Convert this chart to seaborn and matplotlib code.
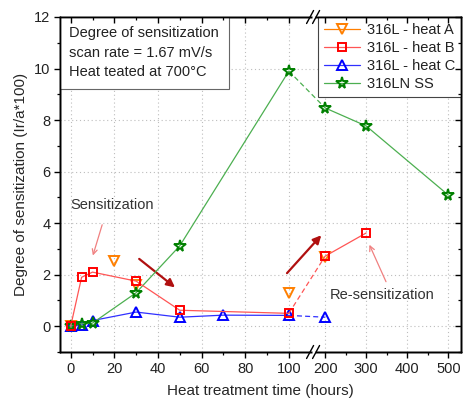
import numpy as np
import matplotlib
matplotlib.use("Agg")
import matplotlib.pyplot as plt
import seaborn as sns
from matplotlib.lines import Line2D
from matplotlib.offsetbox import AnchoredText

# ---------------- data ----------------
hours_A = [0, 20, 30, 100, 200]
dos_A = [0.0, 2.55, 1.6, 1.28, 2.7]
hours_B = [0, 5, 10, 30, 50, 100, 200, 300]
dos_B = [0.0, 1.9, 2.1, 1.75, 0.62, 0.5, 2.72, 3.62]
hours_C = [0, 5, 10, 30, 50, 70, 100, 200]
dos_C = [0.0, 0.05, 0.22, 0.55, 0.35, 0.43, 0.42, 0.35]
hours_LN = [0, 5, 10, 30, 50, 100, 200, 300, 500]
dos_LN = [0.0, 0.1, 0.12, 1.3, 3.12, 9.9, 8.47, 7.77, 5.09]

labels = ["316L - heat A", "316L - heat B", "316L - heat C", "316LN SS"]
x_major = [0, 20, 40, 60, 80, 100, 200, 300, 400, 500]
x_minor = [10, 30, 50, 70, 90, 250, 350, 450]
y_major = [0, 2, 4, 6, 8, 10, 12]
y_minor = [-1, 1, 3, 5, 7, 9, 11]

# ---------------- style ----------------
sns.set_theme(style="ticks")
plt.rcParams["font.family"] = ["Liberation Sans", "DejaVu Sans"]
plt.rcParams["axes.linewidth"] = 1.0
plt.rcParams["axes.edgecolor"] = "black"
plt.rcParams["xtick.color"] = "black"
plt.rcParams["ytick.color"] = "black"
plt.rcParams["xtick.labelcolor"] = "#222222"
plt.rcParams["ytick.labelcolor"] = "#222222"
plt.rcParams["text.color"] = "#222222"

# broken x axis as a piecewise scale (0-100 wide, 200-500 compressed)
KX = np.array([-300.0, 111.0, 171.0, 2000.0])
KU = np.array([70.7 + 2.18 * -300, 70.7 + 2.18 * 111, 313.1, 325 + 0.41 * 1800])


def fwd(x):
    return np.interp(np.asarray(x, dtype=float), KX, KU)


def inv(u):
    return np.interp(np.asarray(u, dtype=float), KU, KX)


fig = plt.figure(figsize=(4.63, 4.0), dpi=100)
ax = fig.add_axes([60 / 463, 1 - 352 / 400, 401 / 463, 335 / 400])
ax.set_xscale("function", functions=(fwd, inv))
XLIM = (-4.9, 531.0)
YLIM = (-1.0, 12.0)
ax.set_xlim(*XLIM)
ax.set_ylim(*YLIM)

ax.grid(True, which="major", linestyle=(0, (1, 2.5)), color="#BDBDBD", linewidth=0.8)
ax.set_axisbelow(True)

ORANGE = "#FF7F00"
RED = "#FF0000"
BLUE = "#0000FF"
GREEN = "#008000"


def draw(hours, vals, color, linecolor, marker, ms, z, line=True):
    h = np.array(hours, dtype=float)
    v = np.array(vals, dtype=float)
    left = h <= 100
    right = h >= 200
    ls = "-" if line else "none"
    for m in (left, right):
        if m.sum() == 0:
            continue
        sns.lineplot(x=h[m], y=v[m], ax=ax, color=linecolor, linewidth=0.9,
                     linestyle=ls, marker=marker, markersize=ms,
                     markerfacecolor="none", markeredgecolor=color,
                     markeredgewidth=1.4, zorder=z, legend=False)
    if line and left.sum() and right.sum():
        ax.plot([h[left][-1], h[right][0]], [v[left][-1], v[right][0]],
                color=linecolor, linewidth=0.9, linestyle=(0, (4, 2.5)), zorder=z - 0.5)


draw(hours_A, dos_A, ORANGE, ORANGE, "v", 6.5, 3, line=False)
draw(hours_C, dos_C, BLUE, "#3030FF", "^", 6.5, 4)
draw(hours_LN, dos_LN, GREEN, "#4CAF50", "*", 8.5, 5)
draw(hours_B, dos_B, RED, "#FF5555", "s", 5.3, 6)

# ticks
ax.set_xticks(x_major)
ax.set_xticklabels([str(t) for t in x_major])
ax.set_xticks(x_minor, minor=True)
ax.set_yticks(y_major)
ax.set_yticks(y_minor, minor=True)
ax.tick_params(which="major", direction="out", length=4, width=1.0, labelsize=10.5, pad=3)
ax.tick_params(which="minor", direction="out", length=2.5, width=0.9)

# inward ticks on top and right
axt = ax.twiny()
axt.set_xscale("function", functions=(fwd, inv))
axt.set_xlim(*XLIM)
axt.set_xticks(x_major)
axt.set_xticks(x_minor, minor=True)
axt.tick_params(which="major", direction="in", length=4, width=1.0, labeltop=False)
axt.tick_params(which="minor", direction="in", length=2.5, width=0.9)
axr = ax.twinx()
axr.set_ylim(*YLIM)
axr.set_yticks(y_major)
axr.set_yticks(y_minor, minor=True)
axr.tick_params(which="major", direction="in", length=4, width=1.0, labelright=False)
axr.tick_params(which="minor", direction="in", length=2.5, width=0.9)
for a in (axt, axr):
    a.patch.set_visible(False)

ax.set_xlabel("Heat treatment time (hours)", fontsize=11, labelpad=6)
ax.set_ylabel("Degree of sensitization (Ir/a*100)", fontsize=11, labelpad=4)

# axis break marks
u0, u1 = fwd(XLIM[0]), fwd(XLIM[1])
fb = (fwd(141.0) - u0) / (u1 - u0)
W, H = 401.0, 335.0
for yb in (0.0, 1.0):
    axr.plot([fb - 1.5 / W, fb + 1.5 / W], [yb, yb], transform=ax.transAxes,
             color="white", lw=2.5, clip_on=False, zorder=20, solid_capstyle="butt")
    for off in (-3.0, 3.0):
        xc = fb + off / W
        axr.plot([xc - 3.5 / W, xc + 3.5 / W], [yb - 6.5 / H, yb + 6.5 / H],
                 transform=ax.transAxes, color="black", lw=1.0, clip_on=False, zorder=21)

# info box
at = AnchoredText("Degree of sensitization\nscan rate = 1.67 mV/s\nHeat teated at 700°C",
                  loc="upper left", borderpad=0.0, pad=0.65, frameon=True,
                  prop=dict(size=10.5, linespacing=1.5, color="#222222"))
at.patch.set_edgecolor("#666666")
at.patch.set_linewidth(0.8)
at.patch.set_boxstyle("square,pad=0")
ax.add_artist(at)

# legend
handles = [
    Line2D([], [], color=ORANGE, lw=0.9, marker="v", ms=6.5, mfc="none", mec=ORANGE, mew=1.4),
    Line2D([], [], color="#FF5555", lw=0.9, marker="s", ms=5.3, mfc="none", mec=RED, mew=1.4),
    Line2D([], [], color="#3030FF", lw=0.9, marker="^", ms=6.5, mfc="none", mec=BLUE, mew=1.4),
    Line2D([], [], color="#4CAF50", lw=0.9, marker="*", ms=8.5, mfc="none", mec=GREEN, mew=1.4),
]
leg = ax.legend(handles, labels, loc="upper right", borderaxespad=0.0, fontsize=10.5,
                frameon=True, fancybox=False, edgecolor="#444444", framealpha=1,
                handlelength=2.5, handletextpad=0.45, labelspacing=0.28, borderpad=0.4)
leg.get_frame().set_linewidth(0.8)
leg.set_zorder(30)

# annotations
ax.text(19, 4.7, "Sensitization", fontsize=10.5, ha="center", va="center", color="#333333")
ax.annotate("", xy=(9.8, 2.64), xytext=(14.8, 4.04),
            arrowprops=dict(arrowstyle="->", color="#F08080", lw=0.9, mutation_scale=9))
ax.annotate("", xy=(48.8, 1.44), xytext=(30.4, 2.68),
            arrowprops=dict(arrowstyle="-|>", color="#B01010", lw=1.6, mutation_scale=12))
ax.annotate("", xy=(195, 3.61), xytext=(98.3, 1.98),
            arrowprops=dict(arrowstyle="-|>", color="#B01010", lw=1.6, mutation_scale=12))
ax.text(339, 1.2, "Re-sensitization", fontsize=10.5, ha="center", va="center", color="#333333")
ax.annotate("", xy=(305, 3.26), xytext=(351, 1.63),
            arrowprops=dict(arrowstyle="->", color="#F08080", lw=0.9, mutation_scale=9))

fig.savefig("out.png", dpi=100)
